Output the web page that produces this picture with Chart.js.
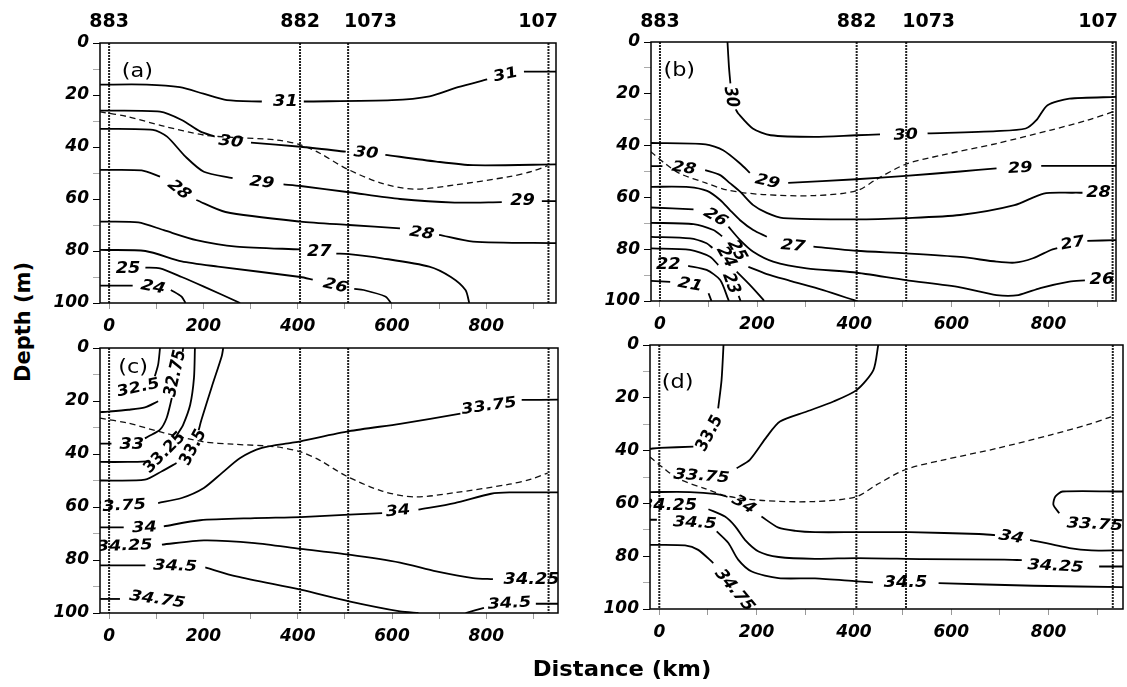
<!DOCTYPE html>
<html>
<head>
<meta charset="utf-8">
<title>Temperature and salinity sections</title>
<script src="https://cdn.jsdelivr.net/npm/chart.js@4.4.1/dist/chart.umd.min.js"></script>
<style>
html, body { margin: 0; padding: 0; background: #fff; }
#wrap { position: relative; width: 1127px; height: 687px; overflow: hidden; font-family: "DejaVu Sans", sans-serif; }
canvas { position: absolute; }
.ttl { position: absolute; font-weight: bold; font-size: 21px; color: #000; white-space: nowrap; }
#ylab { left: 23px; top: 322px; transform: translate(-50%, -50%) rotate(-90deg); }
#xlab { left: 622px; top: 669px; transform: translate(-50%, -50%) scaleX(1.08); }
</style>
</head>
<body>
<div id="wrap">
  <canvas id="pa"></canvas>
  <canvas id="pb"></canvas>
  <canvas id="pc"></canvas>
  <canvas id="pd"></canvas>
  <div class="ttl" id="ylab">Depth (m)</div>
  <div class="ttl" id="xlab">Distance (km)</div>
</div>
<script>
// stations along the section (km) and their numbers
var stations = [0, 405, 507, 932];
var stationNames = ['883', '882', '1073', '107'];
var stationAlign = ['center', 'center', 'left', 'right'];
var xTicks = [0, 100, 200, 300, 400, 500, 600, 700, 800, 900];
var yTicks = [0, 10, 20, 30, 40, 50, 60, 70, 80, 90, 100];

// mixed layer depth (dashed), same on temperature and salinity
var mldWest = [[-19, 26.5], [39, 28.3], [116, 32], [201, 35.4], [262, 36.3], [355, 37.3], [406, 39.2], [447, 42.4],
  [502, 48.2], [579, 54], [648, 56.2], [733, 54.6], [849, 51.4], [895, 49.5], [930, 47.2]];
var mldEast = [[-19, 42.4], [11, 47], [41, 50.8], [94, 54.4], [139, 57.2], [213, 58.9], [318, 59.3], [404, 57.5],
  [446, 53], [506, 47.2], [580, 43.7], [693, 39.2], [805, 34], [880, 30.2], [932, 27]];

// (a) temperature - isotherms as [km, depth], null = gap for the label
var isoA31 = [[-19, 16], [80, 16], [150, 17], [200, 19.5], [250, 22], [324, 22.5], null, [413, 22.5], [600, 22],
  [680, 20.5], [740, 17], [802, 14], null, [880, 11], [950, 11]];
var isoA30 = [[-19, 26], [108, 26.4], [154, 29.6], [193, 34], [224, 36], null, [301, 38.3], [406, 39.9], [502, 41.8],
  null, [586, 43], [694, 45.6], [772, 47], [950, 46.7]];
var isoA29 = [[-19, 33], [93, 33.4], [123, 36], [162, 43.7], [201, 49.5], [262, 52], null, [370, 54.4], [406, 55],
  [509, 57.4], [617, 60], [733, 61.4], [833, 61.2], null, [918, 60.8], [950, 60.8]];
var isoA28 = [[-19, 48.8], [69, 49], [108, 51.4], null, [185, 60.4], [247, 65], [406, 68.7], [509, 70], [617, 71.3],
  null, [700, 73.8], [772, 76.4], [950, 77]];
var isoA27 = [[-19, 68.7], [62, 69], [116, 72], [185, 75.8], [270, 78.3], [406, 79.4], null, [482, 81], [509, 81.2],
  [579, 82.8], [679, 86], [725, 90], [756, 95], [764, 100]];
var isoA26 = [[-19, 79.6], [77, 80], [154, 84], [231, 86], [406, 90], [432, 91], null, [520, 94.6], [540, 95],
  [586, 97.5], [598, 100]];
var isoA25 = [[77, 86.4], [108, 86.7], [154, 90], [201, 93.7], [278, 100]];
var isoA24 = [[-19, 93.3], [50, 93.3], null, [131, 95], [154, 97.6], [162, 100]];
var labelsA = [['31', 374, 22.6, 0], ['31', 841, 12.3, -12], ['30', 258, 38, 6], ['30', 545, 42.4, 5],
  ['29', 324, 53.7, 6], ['29', 877, 61, 0], ['28', 148, 56.5, 38], ['28', 663, 73.2, 8], ['27', 446, 80.6, 0],
  ['26', 480, 93.5, 13], ['25', 40, 87, 0], ['24', 93, 94, 10]];

// (b) temperature, second cruise
var isoB30 = [[139, 0], [142, 9.6], [145, 16], null, [156, 26], [161, 27.6], [191, 33.4], [228, 36], [318, 36.6],
  [404, 36], [453, 35.7], null, [551, 35.3], [693, 34.4], [753, 33.4], [775, 30.2], [798, 24.4], [843, 21.9], [940, 21.2]];
var isoB29 = [[-19, 39], [94, 39.5], [130, 41.8], [165, 46.9], [185, 50.5], null, [264, 54.4], [404, 53], [506, 51.7],
  [618, 50], [693, 48.8], null, [785, 47.8], [940, 47.8]];
var isoB28 = [[-19, 47.9], [5, 47.9], null, [93, 49.5], [124, 51.4], [144, 54.5], [165, 57.8], [192, 63], [220, 66],
  [254, 68], [404, 68.5], [506, 68], [618, 66.8], [730, 63], [790, 58.5], [850, 58.2], [870, 58.2]];
var isoB27 = [[-19, 55.9], [60, 56], [97, 57.5], [124, 61], [144, 64.9], [165, 68.8], [192, 72.6], [220, 75.2], null,
  [316, 79], [404, 80.6], [506, 81.6], [618, 83], [693, 84.8], [730, 85.2], [768, 83.5], [805, 80.3], [818, 79.6], null,
  [880, 76.8], [940, 76.5]];
var isoB26 = [[-19, 63.9], [69, 64.6], null, [141, 71.3], [165, 76.5], [192, 81], [233, 84.8], [302, 87.4], [398, 88.9],
  [506, 91.9], [618, 94.7], [693, 97.7], [738, 97.7], [783, 95], [843, 92.5], [875, 92]];
var isoB25 = [[-19, 69.8], [69, 70.3], [110, 72.6], [128, 75], null, [182, 86.8], [220, 89.6], [268, 92.2], [336, 95.8],
  [398, 99.6], [404, 100]];
var isoB24 = [[-19, 75.2], [62, 75.8], [96, 77.7], [108, 79.5], null, [158, 88.7], [185, 93.8], [213, 99.6], [214, 100]];
var isoB23 = [[-19, 79.7], [62, 80.3], [103, 82.9], [120, 86.1], null, [162, 98], [166, 100]];
var isoB22 = [[58, 86.4], [96, 88], [124, 91.9], [141, 99.6], [142, 100]];
var isoB21 = [[-19, 92.2], [21, 92.6], null, [100, 97], [106, 100]];
var labelsB = [['30', 146, 21.2, 80], ['30', 506, 36, -3], ['29', 221, 54, 12], ['29', 742, 48.8, -3],
  ['28', 49, 48.8, 8], ['28', 903, 58.2, 0], ['27', 274, 78.8, 5], ['27', 850, 77.8, -10], ['26', 114, 67.7, 30],
  ['26', 910, 91.9, 0], ['25', 158, 80.5, 60], ['24', 136, 83, 60], ['23', 146, 93.2, 70], ['22', 17, 86.1, 0],
  ['21', 62, 93.8, 10]];

// (c) salinity, first cruise
var isoC325 = [[108, 0], [104, 6.3], [97, 10.7], null, [104, 20.1], [76, 22.4], [41, 23.3], [-2, 24], [-19, 24.2]];
var isoC33 = [[157, 0], [156, 1.5], null, [133, 18.9], [122, 26.4], [108, 30.8], [83, 33.4], [76, 34.1], null,
  [5, 36.1], [-19, 36.1]];
var isoC3325 = [[182, 0], [180, 11.3], [172, 21.4], [157, 29], [147, 32], [140, 34], null, [83, 42.8], [40, 43], [-19, 43]];
var isoC335 = [[242, 0], [239, 3], [218, 14.5], [196, 27], [190, 31], null, [143, 43.4], [112, 46.5], [76, 49.7], [-19, 50]];
var isoC3375 = [[104, 58.5], [154, 56.6], [201, 52.8], [239, 47.2], [278, 41.5], [324, 37.7], [386, 35.8], [406, 35.2],
  [509, 31.4], [617, 28.6], [745, 24.8], null, [875, 19.6], [952, 19.5]];
var isoC34 = [[-19, 67.7], [31, 67.7], null, [116, 67.3], [193, 65], [309, 64.2], [406, 63.8], [509, 62.9], [579, 62.3],
  null, [656, 61], [733, 58.5], [810, 55], [849, 54.5], [952, 54.5]];
var isoC3425 = [[112, 74.2], [201, 72.6], [309, 73.6], [406, 75.8], [509, 78], [617, 81], [694, 84.3], [772, 86.8], [814, 87.2]];
var isoC345 = [[-19, 82], [77, 82], null, [204, 82.8], [270, 86.2], [406, 91.2], [509, 95.6], [617, 99.4], [656, 100], null,
  [756, 100], [795, 98.1], null, [905, 96.5], [952, 96.5]];
var isoC3475 = [[-19, 94.7], [23, 94.7]];
var labelsC = [['32.5', 62, 15.1, -12], ['32.75', 141, 9.5, -77], ['33', 48, 36.5, 0], ['33.25', 118, 39.5, -45],
  ['33.5', 179, 37.5, -62], ['33.75', 19, 59.7, -3], ['33.75', 806, 22, -8], ['34', 75, 67.9, -2], ['34', 613, 61.6, -5],
  ['34.25', 33, 74.8, -2], ['34.25', 896, 87.4, 0], ['34.5', 140, 82.4, 2], ['34.5', 849, 96.5, -3], ['34.75', 102, 95, 8]];

// (d) salinity, second cruise
var isoD335 = [[132, 0], [128, 13.2], [121, 24], null, [70, 38.5], [1, 39], [-19, 39.3]];
var isoD3375 = [[450, 0], [440, 9.5], [406, 17], [358, 21.4], [303, 25.2], [248, 29], [221, 34.7], [186, 43.5], [159, 46.7]];
var isoD3375b = [[955, 55.5], [829, 55.5], [814, 57.4], [810, 60.5], [822, 63.7]];
var isoD34 = [[-19, 55.7], [63, 55.7], [118, 56.5], [140, 57.5], null, [210, 65], [245, 69.2], [280, 70.4], [320, 70.9],
  [406, 70.9], [514, 70.9], [657, 71.6], [690, 72], null, [762, 73.8], [843, 76.9], [888, 77.8], [955, 77.8]];
var isoD3425 = [[101, 62.2], [135, 65], [156, 68.7], [176, 73.8], [204, 78.2], [245, 80.3], [320, 81], [406, 80.7],
  [544, 81.1], [709, 81.3], [745, 81.5], null, [904, 83.9], [955, 83.9]];
var isoD345 = [[-19, 66.2], [-5, 66.2], null, [118, 70.6], [142, 75], [162, 81.3], [190, 85.8], [245, 88.3], [320, 88.4],
  [406, 89.5], [439, 89.9], null, [574, 90.2], [769, 91.2], [955, 91.7]];
var isoD3475 = [[-19, 75.7], [53, 75.9], [80, 77.6], [111, 82.6]];
var labelsD = [['33.5', 104, 33.4, -62], ['33.75', 87, 49.8, 4], ['33.75', 895, 68.1, 3], ['34', 173, 60.5, 30],
  ['34', 723, 72.8, 10], ['34.25', 20, 61.2, 0], ['34.25', 814, 83.9, 3], ['34.5', 73, 67.5, 3], ['34.5', 506, 90.2, 0],
  ['34.75', 154, 92.9, 50]];

// the figure is a bit stretched sideways, labels follow that
var SX = 1.18;
var tickFont = { family: 'DejaVu Sans', size: 17, weight: 'bold', style: 'italic' };

function toXY(arr) {
  return arr.map(function (p) { return p ? { x: p[0], y: p[1] } : { x: null, y: null }; });
}

function drawLabel(ctx, txt, px, py, deg) {
  var a = deg * Math.PI / 180;
  ctx.save();
  ctx.translate(px, py);
  ctx.scale(SX, 1);
  ctx.rotate(Math.atan2(SX * Math.sin(a), Math.cos(a)));
  ctx.fillText(txt, 0, 0);
  ctx.restore();
}

function makePanel(p) {
  var cv = document.getElementById(p.id);
  cv.width = p.w;
  cv.height = p.h;
  cv.style.left = p.left + 'px';
  cv.style.top = p.top + 'px';

  var ds = [];
  p.lines.forEach(function (l) {
    ds.push({ data: toXY(l), showLine: true, pointRadius: 0, borderColor: '#000', borderWidth: 1.8, tension: 0.25 });
  });
  ds.push({ data: toXY(p.mld), showLine: true, pointRadius: 0, borderColor: '#111', borderWidth: 1.3,
    borderDash: [6, 4], tension: 0.3 });
  stations.forEach(function (s) {
    ds.push({ data: [{ x: s, y: 0 }, { x: s, y: 100 }], showLine: true, pointRadius: 0,
      borderColor: '#222', borderWidth: 2, borderDash: [2, 1] });
  });

  var overlay = {
    id: 'overlay',
    afterDatasetsDraw: function (chart) {
      var ctx = chart.ctx, ca = chart.chartArea;
      var xs = chart.scales.x, ys = chart.scales.y;
      // frame
      ctx.save();
      ctx.strokeStyle = '#000';
      ctx.lineWidth = 1.5;
      ctx.strokeRect(ca.left, ca.top, ca.right - ca.left, ca.bottom - ca.top);
      ctx.restore();

      // contour values
      ctx.save();
      ctx.beginPath();
      ctx.rect(ca.left, ca.top, ca.right - ca.left, ca.bottom - ca.top);
      ctx.clip();
      ctx.fillStyle = '#000';
      ctx.font = 'italic bold 15px "DejaVu Sans"';
      ctx.textAlign = 'center';
      ctx.textBaseline = 'middle';
      p.labels.forEach(function (l) {
        drawLabel(ctx, l[0], xs.getPixelForValue(l[1]), ys.getPixelForValue(l[2]), l[3]);
      });
      // panel letter
      ctx.font = '19px "DejaVu Sans"';
      ctx.textAlign = 'left';
      drawLabel(ctx, p.letter, xs.getPixelForValue(p.letterAt[0]), ys.getPixelForValue(p.letterAt[1]), 0);
      ctx.restore();

      // station numbers over the top row
      if (p.names) {
        ctx.save();
        ctx.font = 'bold 19px "DejaVu Sans"';
        ctx.textBaseline = 'middle';
        ctx.fillStyle = '#000';
        stations.forEach(function (s, i) {
          var x = xs.getPixelForValue(s);
          ctx.textAlign = stationAlign[i];
          if (stationAlign[i] === 'left') x -= 4;
          if (stationAlign[i] === 'right') x = Math.min(ca.right + 2, chart.width - 3);
          ctx.fillText(stationNames[i], x, 22);
        });
        ctx.restore();
      }
    }
  };

  new Chart(cv, {
    type: 'scatter',
    data: { datasets: ds },
    options: {
      responsive: false,
      animation: false,
      devicePixelRatio: 1,
      layout: { padding: { top: p.padTop, right: p.padRight, left: 0, bottom: 0 } },
      plugins: { legend: { display: false }, tooltip: { enabled: false } },
      scales: {
        x: {
          type: 'linear', min: p.xMin, max: p.xMax,
          afterBuildTicks: function (s) { s.ticks = xTicks.map(function (v) { return { value: v }; }); },
          afterFit: function (s) { s.height = p.axisH; },
          border: { display: false },
          grid: { drawOnChartArea: false, tickLength: 6, color: '#999' },
          ticks: {
            autoSkip: false, maxRotation: 0, padding: 7, color: '#000', font: tickFont,
            callback: function (v) { return v % 200 === 0 ? v : ''; }
          }
        },
        y: {
          type: 'linear', reverse: true, min: 0, max: 100,
          afterBuildTicks: function (s) { s.ticks = yTicks.map(function (v) { return { value: v }; }); },
          afterFit: function (s) { s.width = 60; },
          border: { display: false },
          grid: {
            drawOnChartArea: false, tickLength: 7,
            color: function (c) { return c.tick && c.tick.value % 20 === 0 ? '#000' : '#aaa'; }
          },
          ticks: {
            autoSkip: false, padding: 4, color: '#000', font: tickFont,
            callback: function (v) { return v % 20 === 0 ? v : ''; }
          }
        }
      }
    },
    plugins: [overlay]
  });
}

makePanel({ id: 'pa', left: 40, top: 0, w: 522, h: 345, padTop: 43, padRight: 6, axisH: 42,
  xMin: -19.3, xMax: 948, names: true, letter: '(a)', letterAt: [27, 11],
  lines: [isoA31, isoA30, isoA29, isoA28, isoA27, isoA26, isoA25, isoA24], mld: mldWest, labels: labelsA });

makePanel({ id: 'pb', left: 591, top: 0, w: 536, h: 345, padTop: 42, padRight: 11, axisH: 44,
  xMin: -18.5, xMax: 939, names: true, letter: '(b)', letterAt: [7, 11.2],
  lines: [isoB30, isoB29, isoB28, isoB27, isoB26, isoB25, isoB24, isoB23, isoB22, isoB21], mld: mldEast, labels: labelsB });

makePanel({ id: 'pc', left: 40, top: 315, w: 524, h: 350, padTop: 33, padRight: 6, axisH: 52,
  xMin: -19.3, xMax: 952, names: false, letter: '(c)', letterAt: [19.5, 7.5],
  lines: [isoC325, isoC33, isoC3325, isoC335, isoC3375, isoC34, isoC3425, isoC345, isoC3475], mld: mldWest, labels: labelsC });

makePanel({ id: 'pd', left: 590, top: 315, w: 537, h: 350, padTop: 30, padRight: 4, axisH: 56,
  xMin: -19.1, xMax: 953, names: false, letter: '(d)', letterAt: [5, 14.4],
  lines: [isoD335, isoD3375, isoD3375b, isoD34, isoD3425, isoD345, isoD3475], mld: mldEast, labels: labelsD });
</script>
</body>
</html>
